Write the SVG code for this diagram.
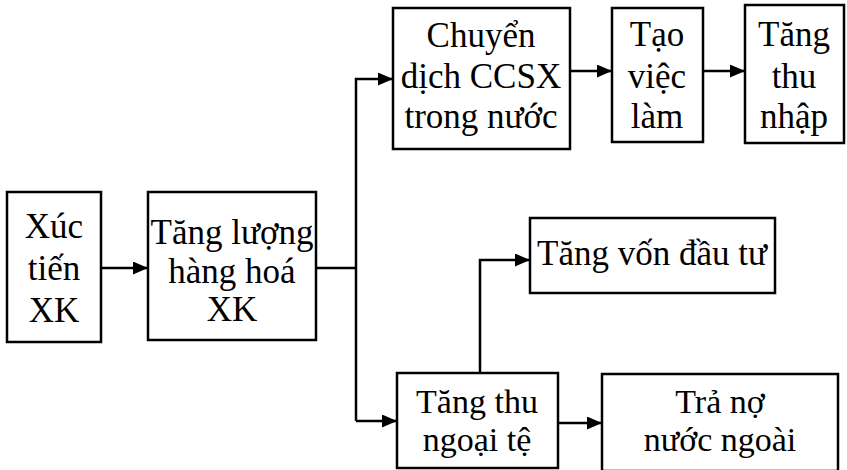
<svg xmlns="http://www.w3.org/2000/svg" width="847" height="470" viewBox="0 0 847 470">
<style>
rect{fill:#fff;stroke:#000;stroke-width:2.5}
text{font-family:"Liberation Serif","Times New Roman",serif;font-size:35px;fill:#000;text-anchor:middle}
.s{font-size:34px}
.c path{fill:none;stroke:#000;stroke-width:2.5}
</style>
<defs>
<marker id="ah" markerUnits="userSpaceOnUse" markerWidth="15" markerHeight="13" refX="14" refY="6.5" orient="auto">
<path d="M0,0 L15,6.5 L0,13 z" fill="#000"/>
</marker>
</defs>
<rect x="0" y="0" width="847" height="470" fill="#fff" stroke="none" style="stroke:none"/>
<g class="c" id="connectors">
<path d="M101,268 H147" marker-end="url(#ah)"/>
<path d="M316,268 H356"/>
<path d="M356,421 V79 H392" marker-end="url(#ah)"/>
<path d="M356,421 H396" marker-end="url(#ah)"/>
<path d="M570,71 H611" marker-end="url(#ah)"/>
<path d="M703,71 H744" marker-end="url(#ah)"/>
<path d="M480,373 V260 H529" marker-end="url(#ah)"/>
<path d="M558,423 H601" marker-end="url(#ah)"/>
</g>
<g id="n1"><rect x="7" y="192" width="94" height="150"/>
<text x="54" y="238">Xúc</text><text x="54" y="280">tiến</text><text x="54" y="322">XK</text></g>
<g id="n2"><rect x="148" y="192" width="168" height="148"/>
<text x="232" y="244">Tăng lượng</text><text x="232" y="283">hàng hoá</text><text x="232" y="321">XK</text></g>
<g id="n3"><rect x="393" y="8" width="177" height="141"/>
<text x="481" y="47">Chuyển</text><text x="481" y="88">dịch CCSX</text><text x="481" y="128">trong nước</text></g>
<g id="n4"><rect x="612" y="8" width="91" height="134"/>
<text x="657" y="46">Tạo</text><text x="657" y="88">việc</text><text x="657" y="128">làm</text></g>
<g id="n5"><rect x="745" y="5" width="99" height="138"/>
<text x="794" y="46">Tăng</text><text x="794" y="88">thu</text><text x="794" y="128">nhập</text></g>
<g id="n6"><rect x="530" y="218" width="245" height="75"/>
<text x="652" y="265">Tăng vốn đầu tư</text></g>
<g id="n7"><rect x="397" y="373" width="161" height="95"/>
<text class="s" x="477" y="413">Tăng thu</text><text class="s" x="477" y="451">ngoại tệ</text></g>
<g id="n8"><rect x="602" y="374" width="236" height="97"/>
<text class="s" x="720" y="413">Trả nợ</text><text class="s" x="720" y="451">nước ngoài</text></g>
</svg>
